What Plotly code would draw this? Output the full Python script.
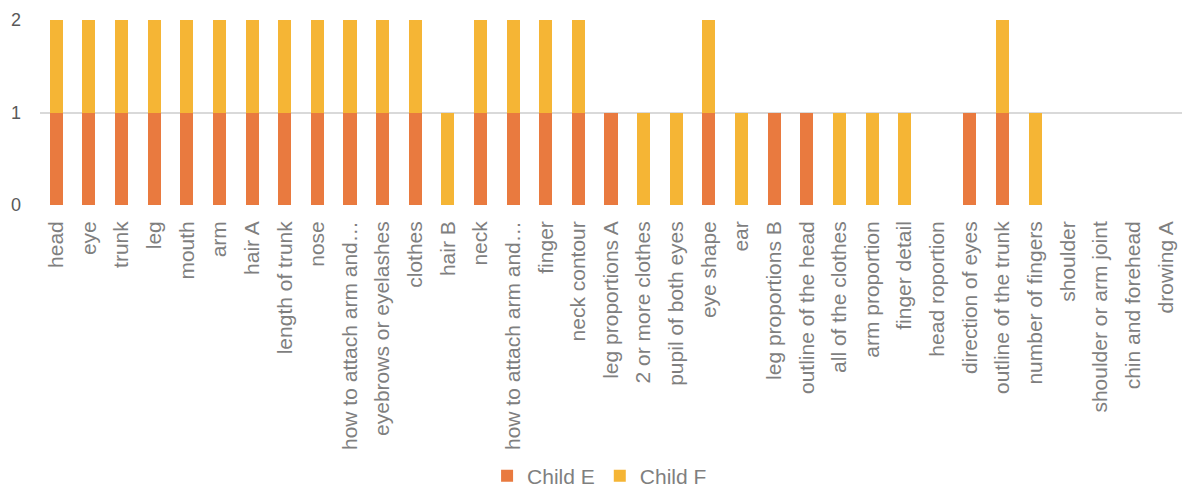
import plotly.graph_objects as go

categories = ["head", "eye", "trunk", "leg", "mouth", "arm", "hair A", "length of trunk", "nose",
              "how to attach arm and…", "eyebrows or eyelashes", "clothes", "hair B", "neck",
              "how to attach arm and…", "finger", "neck contour", "leg proportions A",
              "2 or more clothes", "pupil of both eyes", "eye shape", "ear", "leg proportions B",
              "outline of the head", "all of the clothes", "arm proportion", "finger detail",
              "head roportion", "direction of eyes", "outline of the trunk", "number of fingers",
              "shoulder", "shoulder or arm joint", "chin and forehead", "drowing A"]

child_e = [1, 1, 1, 1, 1, 1, 1, 1, 1, 1, 1, 1, 0, 1, 1, 1, 1, 1, 0, 0, 1, 0, 1, 1, 0, 0, 0, 0, 1, 1, 0, 0, 0, 0, 0]
child_f = [1, 1, 1, 1, 1, 1, 1, 1, 1, 1, 1, 1, 1, 1, 1, 1, 1, 0, 1, 1, 1, 1, 0, 0, 1, 1, 1, 0, 0, 1, 1, 0, 0, 0, 0]

x = list(range(len(categories)))

fig = go.Figure()
fig.add_trace(go.Bar(x=x, y=child_e, name="Child E", marker=dict(color="#E97A3F", line=dict(width=0))))
fig.add_trace(go.Bar(x=x, y=child_f, name="Child F", marker=dict(color="#F5B535", line=dict(width=0))))

fig.update_layout(
    barmode="stack",
    bargap=0.6,
    width=1182, height=489,
    margin=dict(l=40, r=0, t=20, b=284, autoexpand=False),
    plot_bgcolor="white", paper_bgcolor="white",
    font=dict(family="Liberation Sans, Arial, sans-serif", color="#7F7F7F"),
    legend=dict(orientation="h", x=0.49, xanchor="center", y=-1.355, yanchor="top",
                font=dict(size=21, color="#7F7F7F"), itemwidth=30, traceorder="normal",
                tracegroupgap=0),
    showlegend=True,
)
fig.update_xaxes(
    tickmode="array", tickvals=x, ticktext=categories, tickangle=-90,
    range=[-0.5, len(categories) - 0.5], showgrid=False, ticks="",
    tickfont=dict(size=21, color="#7F7F7F"), ticklabelstandoff=11,
    showline=False, zeroline=False,
)
fig.update_yaxes(
    range=[0, 2], dtick=1, showgrid=True, gridcolor="#D9D9D9", gridwidth=2,
    zeroline=False, showline=False, ticks="",
    tickfont=dict(size=18, color="#595959"), ticklabelstandoff=18,
)

fig.write_html("out.html")
